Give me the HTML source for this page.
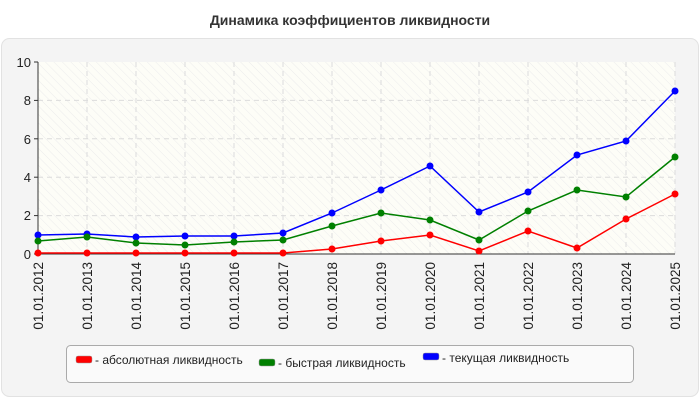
<!DOCTYPE html>
<html><head><meta charset="utf-8"><style>
body{margin:0;width:700px;height:400px;background:#fff;font-family:"Liberation Sans",sans-serif;overflow:hidden}
</style></head><body>
<svg width="700" height="400" xmlns="http://www.w3.org/2000/svg" font-family="Liberation Sans, sans-serif">
<defs>
<pattern id="h" width="6" height="6" patternUnits="userSpaceOnUse" patternTransform="rotate(-45)">
<rect width="6" height="6" fill="#fdfdf7"/><line x1="0" y1="0" x2="0" y2="6" stroke="#ececec" stroke-width="1"/>
</pattern>
</defs>
<text x="350" y="25" text-anchor="middle" font-size="14" font-weight="bold" fill="#333">Динамика коэффициентов ликвидности</text>
<rect x="1.5" y="38.5" width="697" height="358" rx="8" fill="#f4f4f4" stroke="#e2e2e2"/>
<rect x="38" y="62" width="637" height="192" fill="url(#h)"/>
<g stroke="#dcdcdc" stroke-dasharray="5,4">
<line x1="38" y1="100.4" x2="675" y2="100.4"/><line x1="38" y1="138.8" x2="675" y2="138.8"/>
<line x1="38" y1="177.2" x2="675" y2="177.2"/><line x1="38" y1="215.6" x2="675" y2="215.6"/>
<line x1="87" y1="62" x2="87" y2="254"/><line x1="136" y1="62" x2="136" y2="254"/><line x1="185" y1="62" x2="185" y2="254"/><line x1="234" y1="62" x2="234" y2="254"/><line x1="283" y1="62" x2="283" y2="254"/><line x1="332" y1="62" x2="332" y2="254"/><line x1="381" y1="62" x2="381" y2="254"/><line x1="430" y1="62" x2="430" y2="254"/><line x1="479" y1="62" x2="479" y2="254"/><line x1="528" y1="62" x2="528" y2="254"/><line x1="577" y1="62" x2="577" y2="254"/><line x1="626" y1="62" x2="626" y2="254"/><line x1="675" y1="62" x2="675" y2="254"/>
</g>
<g stroke="#333"><line x1="38" y1="62" x2="38" y2="254"/><line x1="38" y1="254" x2="675" y2="254"/>
<line x1="34" y1="62" x2="38" y2="62"/><line x1="34" y1="100.4" x2="38" y2="100.4"/><line x1="34" y1="138.8" x2="38" y2="138.8"/><line x1="34" y1="177.2" x2="38" y2="177.2"/><line x1="34" y1="215.6" x2="38" y2="215.6"/><line x1="34" y1="254" x2="38" y2="254"/></g>
<g font-size="13" fill="#222" text-anchor="end">
<text x="31" y="67">10</text><text x="31" y="105">8</text><text x="31" y="144">6</text><text x="31" y="182">4</text><text x="31" y="220">2</text><text x="31" y="259">0</text>
</g>
<g font-size="13.5" fill="#222" text-anchor="end">
<text transform="translate(43,262) rotate(-90)">01.01.2012</text>
<text transform="translate(92,262) rotate(-90)">01.01.2013</text>
<text transform="translate(141,262) rotate(-90)">01.01.2014</text>
<text transform="translate(190,262) rotate(-90)">01.01.2015</text>
<text transform="translate(239,262) rotate(-90)">01.01.2016</text>
<text transform="translate(288,262) rotate(-90)">01.01.2017</text>
<text transform="translate(337,262) rotate(-90)">01.01.2018</text>
<text transform="translate(386,262) rotate(-90)">01.01.2019</text>
<text transform="translate(435,262) rotate(-90)">01.01.2020</text>
<text transform="translate(484,262) rotate(-90)">01.01.2021</text>
<text transform="translate(533,262) rotate(-90)">01.01.2022</text>
<text transform="translate(582,262) rotate(-90)">01.01.2023</text>
<text transform="translate(631,262) rotate(-90)">01.01.2024</text>
<text transform="translate(680,262) rotate(-90)">01.01.2025</text>
</g>
<g fill="none" stroke-width="1.5">
<polyline stroke="#0000ff" points="38,235 87,234 136,237 185,236 234,236 283,233 332,213 381,190 430,166 479,212 528,192 577,155 626,141 675,91"/>
<polyline stroke="#008000" points="38,241 87,237 136,243 185,245 234,242 283,240 332,226 381,213 430,220 479,240 528,211 577,190 626,197 675,157"/>
<polyline stroke="#ff0000" points="38,253 87,253 136,253 185,253 234,253 283,253 332,249 381,241 430,235 479,251 528,231 577,248 626,219 675,194"/>
</g>
<g fill="#0000ff"><circle cx="38" cy="235" r="3.5"/><circle cx="87" cy="234" r="3.5"/><circle cx="136" cy="237" r="3.5"/><circle cx="185" cy="236" r="3.5"/><circle cx="234" cy="236" r="3.5"/><circle cx="283" cy="233" r="3.5"/><circle cx="332" cy="213" r="3.5"/><circle cx="381" cy="190" r="3.5"/><circle cx="430" cy="166" r="3.5"/><circle cx="479" cy="212" r="3.5"/><circle cx="528" cy="192" r="3.5"/><circle cx="577" cy="155" r="3.5"/><circle cx="626" cy="141" r="3.5"/><circle cx="675" cy="91" r="3.5"/></g>
<g fill="#008000"><circle cx="38" cy="241" r="3.5"/><circle cx="87" cy="237" r="3.5"/><circle cx="136" cy="243" r="3.5"/><circle cx="185" cy="245" r="3.5"/><circle cx="234" cy="242" r="3.5"/><circle cx="283" cy="240" r="3.5"/><circle cx="332" cy="226" r="3.5"/><circle cx="381" cy="213" r="3.5"/><circle cx="430" cy="220" r="3.5"/><circle cx="479" cy="240" r="3.5"/><circle cx="528" cy="211" r="3.5"/><circle cx="577" cy="190" r="3.5"/><circle cx="626" cy="197" r="3.5"/><circle cx="675" cy="157" r="3.5"/></g>
<g fill="#ff0000"><circle cx="38" cy="253" r="3.5"/><circle cx="87" cy="253" r="3.5"/><circle cx="136" cy="253" r="3.5"/><circle cx="185" cy="253" r="3.5"/><circle cx="234" cy="253" r="3.5"/><circle cx="283" cy="253" r="3.5"/><circle cx="332" cy="249" r="3.5"/><circle cx="381" cy="241" r="3.5"/><circle cx="430" cy="235" r="3.5"/><circle cx="479" cy="251" r="3.5"/><circle cx="528" cy="231" r="3.5"/><circle cx="577" cy="248" r="3.5"/><circle cx="626" cy="219" r="3.5"/><circle cx="675" cy="194" r="3.5"/></g>
<rect x="66.5" y="345.5" width="567" height="37" rx="4" fill="#fafafa" stroke="#aaa"/>
<rect x="76" y="356" width="16" height="7" rx="2" fill="#ff0000" stroke="#999" stroke-width="0.5"/>
<rect x="259" y="359" width="16" height="7" rx="2" fill="#008000" stroke="#999" stroke-width="0.5"/>
<rect x="423" y="353" width="16" height="7" rx="2" fill="#0000ff" stroke="#999" stroke-width="0.5"/>
<g font-size="12" fill="#222">
<text x="95" y="364">- абсолютная ликвидность</text>
<text x="278" y="367">- быстрая ликвидность</text>
<text x="442" y="362">- текущая ликвидность</text>
</g>
</svg>
</body></html>
